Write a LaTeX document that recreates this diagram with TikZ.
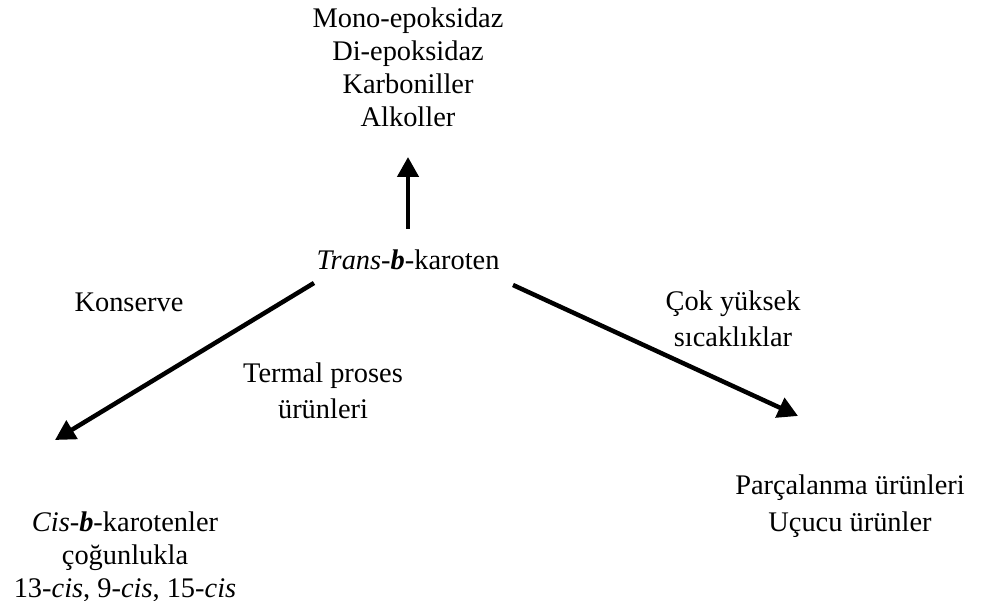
\documentclass[tikz,border=0pt]{standalone}
\usepackage{fontspec}
\setmainfont{Liberation Serif}
\usetikzlibrary{arrows.meta}
\tikzset{
  lbl/.style={align=center, inner sep=0pt, font=\fontsize{28.4pt}{33pt}\selectfont},
  lblw/.style={align=center, inner sep=0pt, font=\fontsize{28.4pt}{36.5pt}\selectfont},
  arr/.style={line width=4.5pt, -{Triangle[length=20pt,width=21pt]}}
}
\newcommand{\bb}{\textbf{\textit{b}}}
\begin{document}
\begin{tikzpicture}[x=1pt,y=-1pt]
\useasboundingbox (0,0) rectangle (993,601);
\node[lbl] (top) at (408,67) {Mono-epoksidaz\\Di-epoksidaz\\Karboniller\\Alkoller};
\node[lbl] (trans) at (408,260) {\textit{Trans}-\bb-karoten};
\node[lbl] (kons) at (129,302) {Konserve};
\node[lblw] (cok) at (733,319) {Çok yüksek\\sıcaklıklar};
\node[lblw] (term) at (323,391) {Termal proses\\ürünleri};
\node[lblw] (parc) at (850,506) {Parçalanma ürünleri\\Uçucu ürünler};
\node[lbl] (cis) at (125,557) {\textit{Cis}-\bb-karotenler\\çoğunlukla\\13-\textit{cis}, 9-\textit{cis}, 15-\textit{cis}};
\coordinate (upS) at (408,229);
\coordinate (upE) at (408,157);
\coordinate (lS) at (314,283);
\coordinate (lE) at (55,440);
\coordinate (rS) at (513,285);
\coordinate (rE) at (798,416);
\draw[arr] (upS) -- (upE);
\draw[arr] (lS) -- (lE);
\draw[arr] (rS) -- (rE);
\end{tikzpicture}
\end{document}
